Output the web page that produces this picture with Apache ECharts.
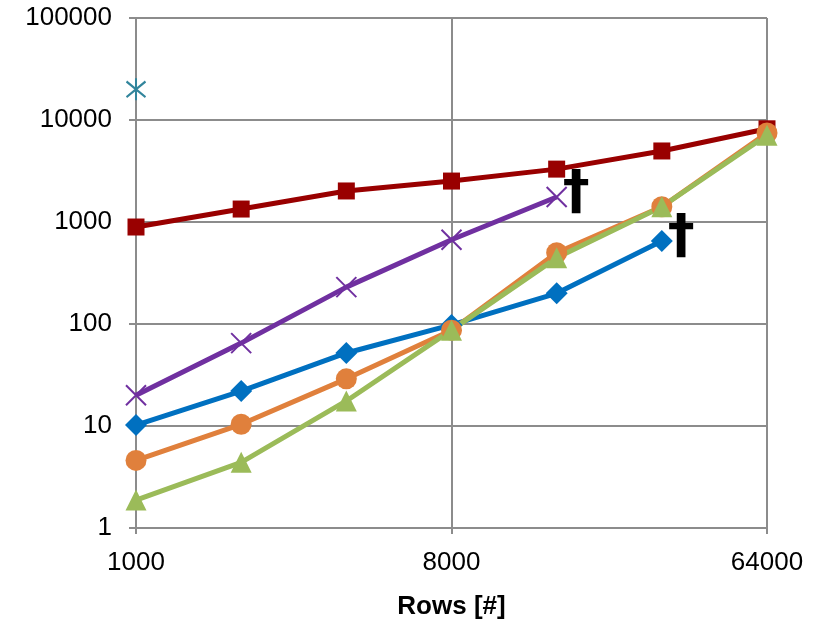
<!DOCTYPE html>
<html><head><meta charset="utf-8">
<script src="https://cdn.jsdelivr.net/npm/echarts@6/dist/echarts.min.js"></script>
<style>html,body{margin:0;padding:0;background:#fff}#c{width:825px;height:629px}</style>
</head><body><div id="c"></div>
<script>
const rows = ['1000','2000','4000','8000','16000','32000','64000'];
const redSquares = [893, 1340, 2015, 2520, 3300, 4970, 8200];
const purpleCross = [20, 65, 230, 670, 1760, null, null];
const blueDiamond = [10.2, 22, 52, 98, 200, 650, null];
const orangeCircle = [4.6, 10.4, 29, 87, 500, 1410, 7450];
const greenTriangle = [1.88, 4.4, 17.6, 87, 445, 1410, 7100];
const tealStar = [20000, null, null, null, null, null, null];
const yTicks = [1, 10, 100, 1000, 10000, 100000];
const dagger = '†';

const FONT = 'Liberation Sans';
function withDagger(arr) {
  let last = -1;
  arr.forEach((v, i) => { if (v != null) last = i; });
  return arr.map((v, i) => i === last ? {
    value: v,
    label: { show: true, formatter: dagger, position: 'right', distance: 0, offset: [-5, -3],
      fontSize: 54, fontWeight: 'bold', color: '#000', fontFamily: 'DejaVu Sans' }
  } : v);
}
const chart = echarts.init(document.getElementById('c'), null, {renderer: 'canvas'});
chart.setOption({
  animation: false,
  grid: { left: 136, right: 58, top: 18, bottom: 101 },
  xAxis: {
    type: 'category', data: rows, boundaryGap: false,
    name: 'Rows [#]', nameLocation: 'middle', nameGap: 66,
    nameTextStyle: { fontFamily: FONT, fontSize: 26, fontWeight: 'bold', color: '#000' },
    axisLine: { lineStyle: { color: '#8c8c8c', width: 2 } },
    axisTick: { show: true, interval: 2, length: 6, lineStyle: { color: '#8c8c8c', width: 2 } },
    axisLabel: { interval: 2, margin: 22, fontFamily: FONT, fontSize: 26, color: '#000' },
    splitLine: { show: true, interval: 2, lineStyle: { color: '#8c8c8c', width: 2 } }
  },
  yAxis: {
    type: 'log', logBase: 10, min: yTicks[0], max: yTicks[yTicks.length - 1],
    axisLine: { show: true, lineStyle: { color: '#8c8c8c', width: 2 } },
    axisTick: { show: true, length: 7, lineStyle: { color: '#8c8c8c', width: 2 } },
    axisLabel: { margin: 24, fontFamily: FONT, fontSize: 26, color: '#000',
      formatter: v => String(Math.round(v)) },
    splitLine: { show: true, lineStyle: { color: '#8c8c8c', width: 2 } },
    minorTick: { show: false }
  },
  series: [
    { type: 'line', data: redSquares, symbol: 'rect', symbolSize: 17,
      lineStyle: { color: '#990000', width: 5 }, itemStyle: { color: '#990000' } },
    { type: 'line', data: withDagger(purpleCross), symbol: 'path://M0,0L10,10M10,0L0,10', symbolSize: 20,
      lineStyle: { color: '#7030A0', width: 5 },
      itemStyle: { color: 'rgba(0,0,0,0)', borderColor: '#7030A0', borderWidth: 2 } },
    { type: 'line', data: withDagger(blueDiamond), symbol: 'diamond', symbolSize: 22,
      lineStyle: { color: '#0070C0', width: 5 }, itemStyle: { color: '#0070C0' } },
    { type: 'line', data: orangeCircle, symbol: 'circle', symbolSize: 21,
      lineStyle: { color: '#E0803C', width: 5 }, itemStyle: { color: '#E0803C' } },
    { type: 'line', data: greenTriangle, symbol: 'triangle', symbolSize: 21,
      lineStyle: { color: '#9BBB59', width: 5 }, itemStyle: { color: '#9BBB59' } },
    { type: 'line', data: tealStar, symbol: 'path://M0,0L10,10M10,0L0,10M5,-2L5,12', symbolSize: [19, 22],
      showAllSymbol: true, z: 5,
      lineStyle: { color: '#31859C', width: 0 },
      itemStyle: { color: 'rgba(0,0,0,0)', borderColor: '#31859C', borderWidth: 2.2 } }
  ]
});
</script></body></html>
